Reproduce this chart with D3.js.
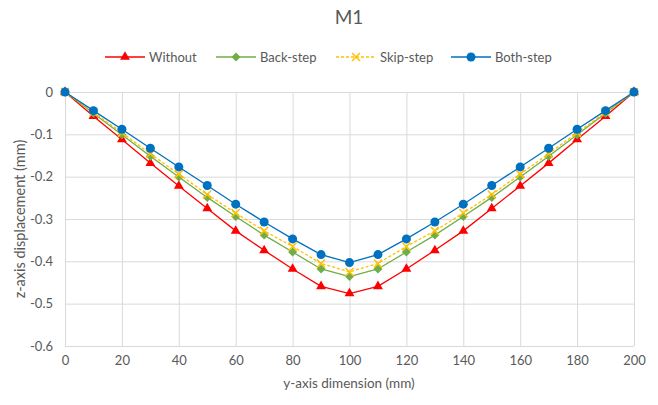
<!DOCTYPE html>
<html>
<head>
<meta charset="utf-8">
<script src="https://cdn.jsdelivr.net/npm/d3@7"></script>
<style>
  body { margin: 0; background: #fff; }
  svg { font-family: Lato, "Open Sans", sans-serif; }
</style>
</head>
<body>
<svg id="chart" width="658" height="405"></svg>
<script>
// Data (x in mm, z in mm)
const xValues = [0, 10, 20, 30, 40, 50, 60, 70, 80, 90, 100, 110, 120, 130, 140, 150, 160, 170, 180, 190, 200];
const withoutVals = [0, -0.057, -0.112, -0.168, -0.222, -0.275, -0.328, -0.374, -0.418, -0.459, -0.476, -0.459, -0.418, -0.374, -0.328, -0.275, -0.222, -0.168, -0.112, -0.057, 0];
const backVals = [0, -0.05, -0.101, -0.152, -0.201, -0.249, -0.294, -0.338, -0.378, -0.418, -0.436, -0.418, -0.378, -0.338, -0.294, -0.249, -0.201, -0.152, -0.101, -0.05, 0];
const skipVals = [0, -0.048, -0.096, -0.146, -0.194, -0.242, -0.286, -0.328, -0.365, -0.405, -0.425, -0.405, -0.365, -0.328, -0.286, -0.242, -0.194, -0.146, -0.096, -0.048, 0];
const bothVals = [0, -0.044, -0.088, -0.133, -0.177, -0.221, -0.265, -0.307, -0.347, -0.384, -0.403, -0.384, -0.347, -0.307, -0.265, -0.221, -0.177, -0.133, -0.088, -0.044, 0];
const xTicks = [0, 20, 40, 60, 80, 100, 120, 140, 160, 180, 200];
const yTicks = [0, -0.1, -0.2, -0.3, -0.4, -0.5, -0.6];

const series = [
  { name: 'Without', values: withoutVals, color: '#FF0000', marker: 'triangle', dash: null },
  { name: 'Back-step', values: backVals, color: '#70AD47', marker: 'diamond', dash: null },
  { name: 'Skip-step', values: skipVals, color: '#FFC000', marker: 'cross', dash: '3,2' },
  { name: 'Both-step', values: bothVals, color: '#0070C0', marker: 'circle', dash: null }
];

const svg = d3.select('#chart');
const margin = { top: 92, right: 24, bottom: 59, left: 65 };
const width = 658, height = 405;

// Scales
const xScale = d3.scaleLinear().domain([0, 200]).range([margin.left, width - margin.right]);
const yScale = d3.scaleLinear().domain([-0.6, 0]).range([height - margin.bottom, margin.top]);

const textColor = '#595959';
const gridColor = '#D9D9D9';

// Gridlines
svg.append('g')
  .attr('transform', `translate(0, ${height - margin.bottom})`)
  .call(d3.axisBottom(xScale).tickValues(xTicks).tickSize(-(height - margin.top - margin.bottom)).tickFormat(''))
  .call(g => g.select('.domain').remove())
  .call(g => g.selectAll('line').attr('stroke', gridColor));

svg.append('g')
  .attr('transform', `translate(${margin.left}, 0)`)
  .call(d3.axisLeft(yScale).tickValues(yTicks).tickSize(-(width - margin.left - margin.right)).tickFormat(''))
  .call(g => g.select('.domain').remove())
  .call(g => g.selectAll('line').attr('stroke', gridColor));

// Axis labels
svg.append('g')
  .attr('transform', `translate(0, ${height - margin.bottom})`)
  .call(d3.axisBottom(xScale).tickValues(xTicks).tickSize(0).tickPadding(10))
  .call(g => g.select('.domain').remove())
  .call(g => g.selectAll('text').attr('fill', textColor).style('font-size', '13px').style('font-family', 'Lato, sans-serif'));

svg.append('g')
  .attr('transform', `translate(${margin.left}, 0)`)
  .call(d3.axisLeft(yScale).tickValues(yTicks).tickSize(0).tickPadding(12).tickFormat(d => d === 0 ? '0' : d3.format('.1f')(d).replace('−', '-')))
  .call(g => g.select('.domain').remove())
  .call(g => g.selectAll('text').attr('fill', textColor).style('font-size', '13px').style('font-family', 'Lato, sans-serif'));

// Titles
svg.append('text')
  .attr('x', 349).attr('y', 24)
  .attr('text-anchor', 'middle')
  .attr('fill', textColor)
  .style('font-size', '19px')
  .text('M1');

svg.append('text')
  .attr('x', 349).attr('y', 388)
  .attr('text-anchor', 'middle')
  .attr('fill', textColor)
  .style('font-size', '13.5px')
  .text('y-axis dimension (mm)');

svg.append('text')
  .attr('transform', 'translate(25, 219) rotate(-90)')
  .attr('text-anchor', 'middle')
  .attr('fill', textColor)
  .style('font-size', '14.5px')
  .text('z-axis displacement (mm)');

// Marker drawing helper
function drawMarker(g, type, color, x, y) {
  if (type === 'circle') {
    g.append('circle').attr('cx', x).attr('cy', y).attr('r', 4.5).attr('fill', color);
  } else if (type === 'triangle') {
    g.append('path').attr('d', d3.symbol(d3.symbolTriangle, 42)()).attr('transform', `translate(${x},${y})`).attr('fill', color);
  } else if (type === 'diamond') {
    g.append('path').attr('d', 'M0,-4.5L4.5,0L0,4.5L-4.5,0Z').attr('transform', `translate(${x},${y})`).attr('fill', color);
  } else if (type === 'cross') {
    g.append('path').attr('d', 'M-4,-4L4,4M-4,4L4,-4').attr('transform', `translate(${x},${y})`)
      .attr('stroke', color).attr('stroke-width', 1.5).attr('fill', 'none');
  }
}

// Lines and markers
const line = d3.line().x((d, i) => xScale(xValues[i])).y(d => yScale(d));

series.forEach(s => {
  const g = svg.append('g');
  g.append('path')
    .datum(s.values)
    .attr('d', line)
    .attr('fill', 'none')
    .attr('stroke', s.color)
    .attr('stroke-width', 1.3)
    .attr('stroke-dasharray', s.dash);
  s.values.forEach((v, i) => drawMarker(g, s.marker, s.color, xScale(xValues[i]), yScale(v)));
});

// Legend
const legendX = [105, 216, 336, 451];
series.forEach((s, i) => {
  const g = svg.append('g').attr('transform', `translate(${legendX[i]}, 57)`);
  g.append('line')
    .attr('x1', 0).attr('x2', 40)
    .attr('stroke', s.color).attr('stroke-width', 1.3)
    .attr('stroke-dasharray', s.dash);
  drawMarker(g, s.marker, s.color, 20, 0);
  g.append('text')
    .attr('x', 44).attr('y', 4.5)
    .attr('fill', textColor)
    .style('font-size', '13px')
    .text(s.name);
});
</script>
</body>
</html>
